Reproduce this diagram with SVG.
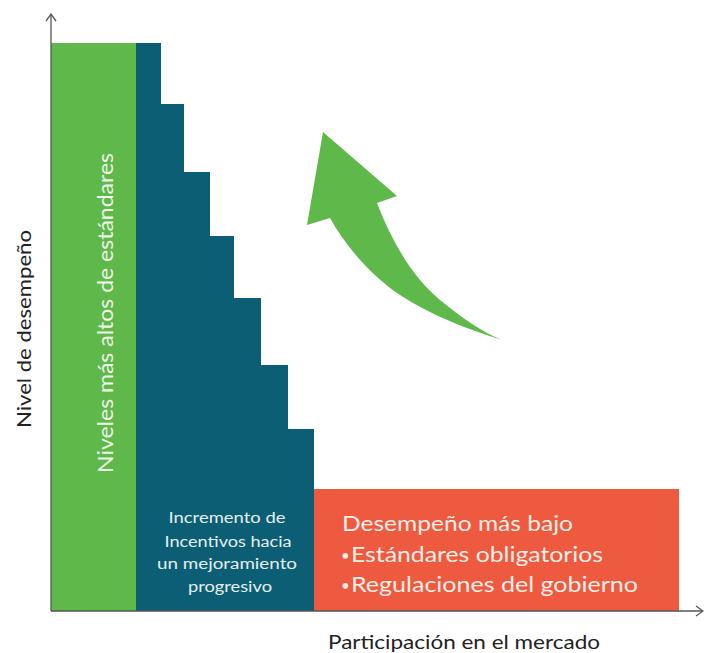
<svg xmlns="http://www.w3.org/2000/svg" width="704" height="653" viewBox="0 0 704 653">
<defs>
<style>
.axis{stroke:#555;stroke-width:1.3;fill:none}
.lbl{font-family:Lato,"Open Sans","Liberation Sans",sans-serif;fill:#222}
.w{font-family:Lato,"Open Sans","Liberation Sans",sans-serif}
.b{font-size:15px}
</style>
</defs>
<rect width="704" height="653" fill="#fff"/>
<g id="green-block">
<rect x="51" y="43" width="85" height="568" fill="#5fb84a"/>
<text class="w" transform="translate(113,473) rotate(-90)" font-size="22" fill="#eef7e8" textLength="320" lengthAdjust="spacingAndGlyphs">Niveles más altos de estándares</text>
</g>
<g id="teal-steps">
<path d="M136,43 H161 V104 H184 V172 H210 V236 H234 V298 H261 V365 H288 V429 H314 V611 H136 Z" fill="#0b5e74"/>
<g class="w" font-size="15.5" fill="#e6eef0" text-anchor="middle">
<text x="227" y="523" textLength="117" lengthAdjust="spacingAndGlyphs">Incremento de</text>
<text x="228" y="547" textLength="127" lengthAdjust="spacingAndGlyphs">Incentivos hacia</text>
<text x="227" y="569" textLength="140" lengthAdjust="spacingAndGlyphs">un mejoramiento</text>
<text x="230" y="592" textLength="84" lengthAdjust="spacingAndGlyphs">progresivo</text>
</g>
</g>
<g id="red-block">
<rect x="314" y="489" width="365" height="122" fill="#ee5a40"/>
<g class="w" font-size="21" fill="#fdeee6">
<text x="342" y="531" textLength="231" lengthAdjust="spacingAndGlyphs">Desempeño más bajo</text>
<text x="341" y="561"><tspan class="b">•</tspan><tspan x="351" y="562" textLength="252" lengthAdjust="spacingAndGlyphs">Estándares obligatorios</tspan></text>
<text x="341" y="591"><tspan class="b">•</tspan><tspan x="351" y="592" textLength="287" lengthAdjust="spacingAndGlyphs">Regulaciones del gobierno</tspan></text>
</g>
</g>
<g id="arrow">
<path d="M323,132 L397,196 L377,203 C390,237 410,275 440,300 C462,318 482,332 502,340 C470,330 430,315 400,295 C370,275 345,245 330,218 L307,225 Z" fill="#5fb84a"/>
</g>
<g id="axes">
<line class="axis" x1="51" y1="14" x2="51" y2="611"/>
<path class="axis" d="M46,21 L51,14 L56,21"/>
<line class="axis" x1="51" y1="611" x2="702" y2="611"/>
<path class="axis" d="M696,606 L703,611 L696,616"/>
</g>
<g id="labels">
<text class="lbl" transform="translate(31,428) rotate(-90)" font-size="18.5" textLength="198" lengthAdjust="spacingAndGlyphs">Nivel de desempeño</text>
<text class="lbl" x="328" y="649" font-size="19" textLength="272" lengthAdjust="spacingAndGlyphs">Participación en el mercado</text>
</g>
</svg>
